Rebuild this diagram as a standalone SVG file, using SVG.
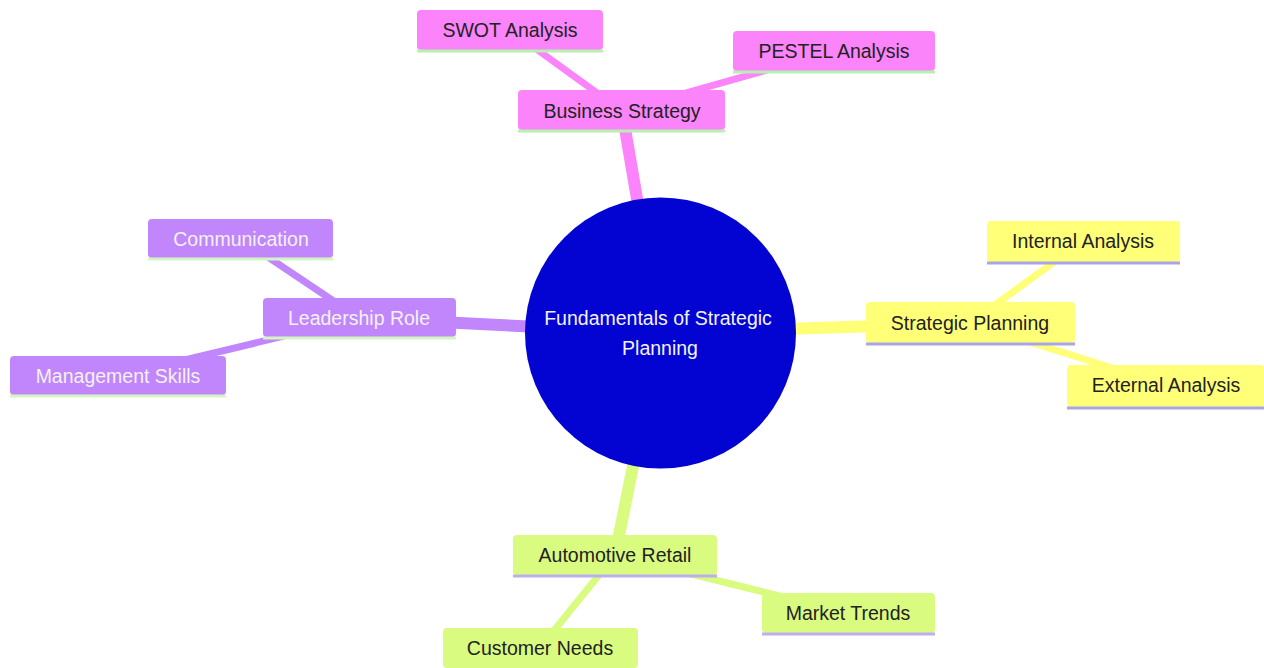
<svg xmlns="http://www.w3.org/2000/svg" width="1264" height="668" viewBox="0 0 1264 668">
<style>
text{font-family:"Liberation Sans",Arial,sans-serif;font-size:19.5px;text-anchor:middle;dominant-baseline:central}
.e1{stroke-width:12;stroke-linecap:butt;fill:none}
.e2{stroke-width:7;stroke-linecap:butt;fill:none}
.pink{fill:#fb84fb}.pinkS{stroke:#fb84fb}
.yel{fill:#ffff78}.yelS{stroke:#ffff78}
.grn{fill:#d9fb80}.grnS{stroke:#d9fb80}
.pur{fill:#c286fc}.purS{stroke:#c286fc}
.dark{fill:#222}
.light{fill:#f2f2f2}
.lp{stroke:#b8f0b0;stroke-width:3}
.ly{stroke:#a9a3e8;stroke-width:3}
.lg{stroke:#bcaef0;stroke-width:3}
.lu{stroke:#d4f5c2;stroke-width:3}
</style>
<rect width="1264" height="668" fill="#fff"/>
<g id="connectors">
<line class="e1 pinkS" x1="660" y1="333" x2="622" y2="111"/>
<line class="e1 purS" x1="660" y1="333" x2="359" y2="318"/>
<line class="e1 yelS" x1="660" y1="333" x2="970" y2="323"/>
<line class="e1 grnS" x1="660" y1="333" x2="615" y2="555"/>
<line class="e2 pinkS" x1="510" y1="30" x2="622" y2="111"/>
<line class="e2 pinkS" x1="834" y1="51" x2="622" y2="111"/>
<line class="e2 purS" x1="241" y1="239" x2="359" y2="318"/>
<line class="e2 purS" x1="118" y1="376" x2="359" y2="318"/>
<line class="e2 yelS" x1="1083" y1="241" x2="970" y2="323"/>
<line class="e2 yelS" x1="1166" y1="385" x2="970" y2="323"/>
<line class="e2 grnS" x1="540" y1="648" x2="615" y2="555"/>
<line class="e2 grnS" x1="848" y1="613" x2="615" y2="555"/>
</g>
<g id="root">
<circle cx="660.5" cy="333" r="135.5" fill="#0303d2"/>
<text class="light" x="658" y="318">Fundamentals of Strategic</text>
<text class="light" x="660" y="348">Planning</text>
</g>
<g id="business-strategy">
<rect class="pink" x="518" y="90" width="207" height="40" rx="4"/>
<line class="lp" x1="518" y1="131" x2="725" y2="131"/>
<text class="dark" x="622" y="111">Business Strategy</text>
</g>
<g id="swot">
<rect class="pink" x="417" y="10" width="186" height="40" rx="4"/>
<line class="lp" x1="417" y1="51" x2="603" y2="51"/>
<text class="dark" x="510" y="30">SWOT Analysis</text>
</g>
<g id="pestel">
<rect class="pink" x="733" y="31" width="202" height="40" rx="4"/>
<line class="lp" x1="733" y1="72" x2="935" y2="72"/>
<text class="dark" x="834" y="51">PESTEL Analysis</text>
</g>
<g id="leadership-role">
<rect class="pur" x="263" y="298" width="193" height="39" rx="4"/>
<line class="lu" x1="263" y1="338" x2="456" y2="338"/>
<text class="light" x="359" y="318">Leadership Role</text>
</g>
<g id="communication">
<rect class="pur" x="148" y="219" width="185" height="39" rx="4"/>
<line class="lu" x1="148" y1="259" x2="333" y2="259"/>
<text class="light" x="241" y="239">Communication</text>
</g>
<g id="management-skills">
<rect class="pur" x="10" y="356" width="216" height="39" rx="4"/>
<line class="lu" x1="10" y1="396" x2="226" y2="396"/>
<text class="light" x="118" y="376">Management Skills</text>
</g>
<g id="strategic-planning">
<rect class="yel" x="866" y="302" width="209" height="41" rx="4"/>
<line class="ly" x1="866" y1="344" x2="1075" y2="344"/>
<text class="dark" x="970" y="323">Strategic Planning</text>
</g>
<g id="internal-analysis">
<rect class="yel" x="987" y="221" width="193" height="41" rx="4"/>
<line class="ly" x1="987" y1="263" x2="1180" y2="263"/>
<text class="dark" x="1083" y="241">Internal Analysis</text>
</g>
<g id="external-analysis">
<rect class="yel" x="1067" y="365" width="197" height="42" rx="4"/>
<line class="ly" x1="1067" y1="408" x2="1264" y2="408"/>
<text class="dark" x="1166" y="385">External Analysis</text>
</g>
<g id="automotive-retail">
<rect class="grn" x="513" y="535" width="204" height="40" rx="4"/>
<line class="lg" x1="513" y1="576" x2="717" y2="576"/>
<text class="dark" x="615" y="555">Automotive Retail</text>
</g>
<g id="market-trends">
<rect class="grn" x="762" y="593" width="173" height="40" rx="4"/>
<line class="lg" x1="762" y1="634" x2="935" y2="634"/>
<text class="dark" x="848" y="613">Market Trends</text>
</g>
<g id="customer-needs">
<rect class="grn" x="443" y="628" width="195" height="40" rx="4"/>
<text class="dark" x="540" y="648">Customer Needs</text>
</g>
</svg>
